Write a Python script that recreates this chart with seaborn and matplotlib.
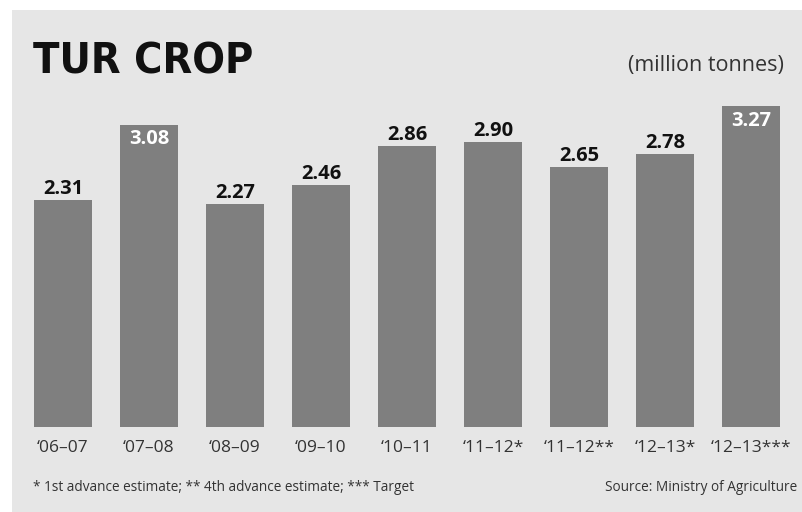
import matplotlib
matplotlib.use("Agg")
import matplotlib.pyplot as plt
import seaborn as sns
import pandas as pd
from matplotlib.patches import Rectangle

seasons = ["\u201806\u201307", "\u201807\u201308", "\u201808\u201309", "\u201809\u201310", "\u201810\u201311",
           "\u201811\u201312*", "\u201811\u201312**", "\u201812\u201313*", "\u201812\u201313***"]
production = [2.31, 3.08, 2.27, 2.46, 2.86, 2.90, 2.65, 2.78, 3.27]
inside_label = [False, True, False, False, False, False, False, False, True]

df = pd.DataFrame({"season": seasons, "production": production})

sns.set_theme(style="white")
plt.rcParams['font.family'] = ['Open Sans', 'DejaVu Sans']

W, H = 802, 512
fig = plt.figure(figsize=(W / 100, H / 100), dpi=100, facecolor="white")
bg = "#e6e6e6"
fig.patches.append(Rectangle((12 / W, 0), 1 - 12 / W, 1 - 10 / H, transform=fig.transFigure,
                             facecolor=bg, edgecolor="none", zorder=-5))

scale = 98.2  # px per unit
ymax = 3.4
ax = fig.add_axes([20 / W, 85 / H, 774 / W, ymax * scale / H])
ax.set_facecolor("none")
sns.barplot(data=df, x="season", y="production", ax=ax, color="#7f7f7f",
            saturation=1, width=0.674, edgecolor="none")
ax.set_xlim(-0.5, 8.5)
ax.set_ylim(0, ymax)
for s in ax.spines.values():
    s.set_visible(False)
ax.set_yticks([])
ax.set_xlabel("")
ax.set_ylabel("")
ax.tick_params(axis="x", length=0, pad=9, labelsize=12.5, labelcolor="#333333")

for i, (v, inside) in enumerate(zip(production, inside_label)):
    if inside:
        ax.text(i, v - 0.05, f"{v:.2f}", ha="center", va="top", color="white",
                fontsize=14.5, fontweight="bold")
    else:
        ax.text(i, v + 0.01, f"{v:.2f}", ha="center", va="bottom", color="#111111",
                fontsize=14.5, fontweight="bold")

fig.text(33 / W, 1 - 73 / H, "TUR CROP", fontsize=31, fontweight="bold", fontstretch="condensed",
         family=["DejaVu Sans"], color="#111111", ha="left", va="baseline")
fig.text(784 / W, 1 - 71 / H, "(million tonnes)", fontsize=15.5, color="#333333",
         ha="right", va="baseline")
fig.text(33 / W, 1 - 491 / H, "* 1st advance estimate; ** 4th advance estimate; *** Target",
         fontsize=9.8, color="#333333", ha="left", va="baseline")
fig.text(797 / W, 1 - 491 / H, "Source: Ministry of Agriculture",
         fontsize=9.8, color="#333333", ha="right", va="baseline")

fig.savefig("out.png", dpi=100, facecolor="white")
